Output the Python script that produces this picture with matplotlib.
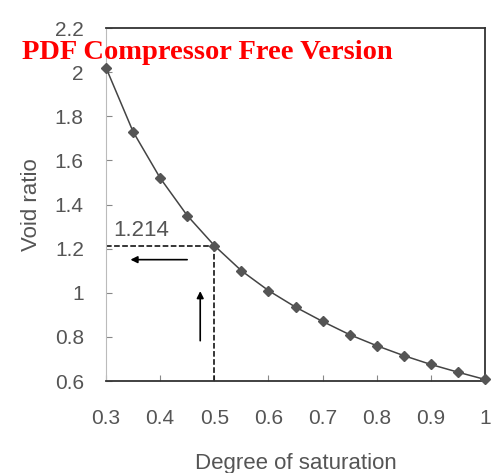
import matplotlib
matplotlib.use("Agg")
import matplotlib.pyplot as plt

# data
saturation = [0.30, 0.35, 0.40, 0.45, 0.50, 0.55, 0.60, 0.65,
              0.70, 0.75, 0.80, 0.85, 0.90, 0.95, 1.00]
void_ratio = [2.02, 1.73, 1.52, 1.35, 1.214, 1.10, 1.01, 0.935,
              0.87, 0.81, 0.76, 0.715, 0.675, 0.64, 0.607]
x_ticks = [0.3, 0.4, 0.5, 0.6, 0.7, 0.8, 0.9, 1.0]
x_labels = ["0.3", "0.4", "0.5", "0.6", "0.7", "0.8", "0.9", "1"]
y_ticks = [0.6, 0.8, 1.0, 1.2, 1.4, 1.6, 1.8, 2.0, 2.2]
y_labels = ["0.6", "0.8", "1", "1.2", "1.4", "1.6", "1.8", "2", "2.2"]
s_read = 0.5
e_read = 1.214

grey = "#444444"
txt = "#555555"
plt.rcParams["font.family"] = ["Liberation Sans", "DejaVu Sans"]

fig = plt.figure(figsize=(4.94, 4.73), dpi=100)
ax = fig.add_axes([0.2146, 0.1945, 0.7672, 0.7463])

ax.plot(saturation, void_ratio, color=grey, lw=1.1, marker="D",
        markersize=5.5, markerfacecolor="#555555", markeredgecolor="#555555",
        clip_on=False, zorder=3)

# reading lines
ax.plot([0.3, s_read], [e_read, e_read], color="black", ls="--", lw=1.1)
ax.plot([s_read, s_read], [0.6, e_read], color="black", ls="--", lw=1.1)
ax.text(0.313, e_read + 0.02, "1.214", fontsize=16, color=txt,
        ha="left", va="bottom")

ax.annotate("", xy=(0.34, 1.15), xytext=(0.455, 1.15),
            arrowprops=dict(arrowstyle="-|>", color="black", lw=1.2,
                            mutation_scale=10))
ax.annotate("", xy=(0.474, 1.02), xytext=(0.474, 0.77),
            arrowprops=dict(arrowstyle="-|>", color="black", lw=1.2,
                            mutation_scale=10))

ax.set_xlim(0.3, 1.0)
ax.set_ylim(0.6, 2.2)
ax.set_xticks(x_ticks)
ax.set_xticklabels(x_labels)
ax.set_yticks(y_ticks)
ax.set_yticklabels(y_labels)
ax.tick_params(direction="in", length=4, width=0.8, color="#888888",
               labelsize=15, labelcolor=txt)
ax.tick_params(axis="x", pad=20)
ax.tick_params(axis="y", pad=16)

for side in ["top", "right", "bottom"]:
    ax.spines[side].set_color("#333333")
    ax.spines[side].set_linewidth(1.3)
ax.spines["left"].set_color("#bbbbbb")
ax.spines["left"].set_linewidth(0.8)

ax.set_xlabel("Degree of saturation", fontsize=16, color=txt, labelpad=18)
ax.set_ylabel("Void ratio", fontsize=16, color=txt, labelpad=9)

# watermark from the source document
fig.text(0.045, 0.888, "PDF Compressor Free Version", color="red",
         fontsize=20.5, fontweight="bold", family="Liberation Serif",
         ha="left", va="center")

plt.savefig("out.png", dpi=100)
